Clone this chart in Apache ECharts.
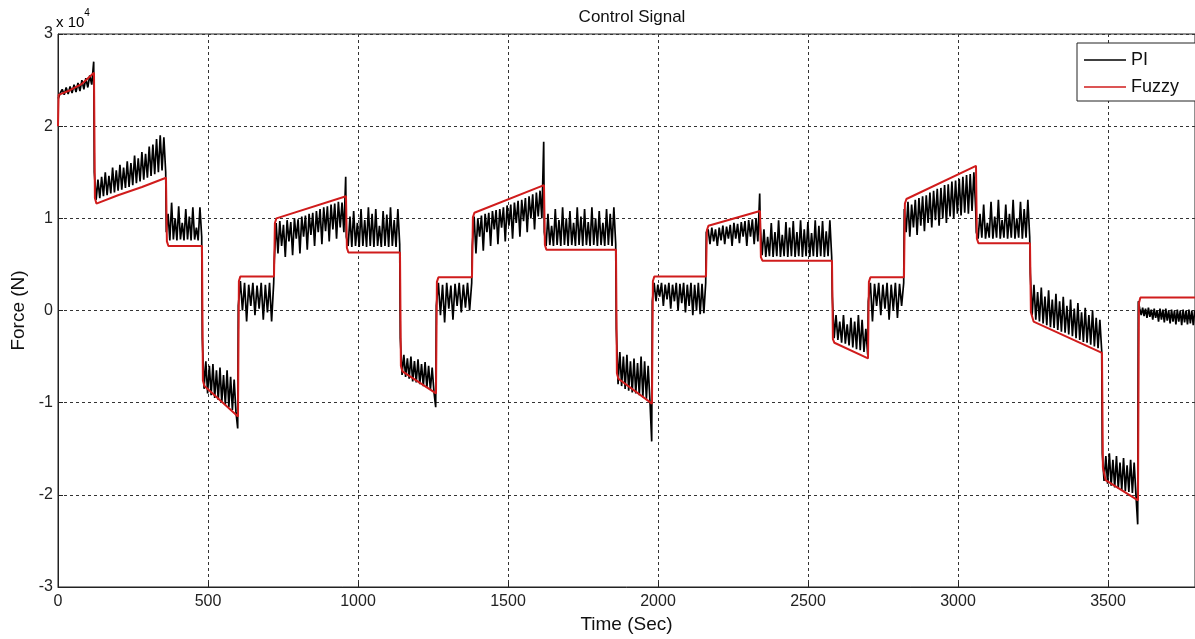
<!DOCTYPE html>
<html>
<head>
<meta charset="utf-8">
<title>Control Signal</title>
<script src="https://cdn.jsdelivr.net/npm/echarts@6/dist/echarts.min.js"></script>
<style>
    html, body { margin: 0; padding: 0; background: #fff; }
    #chart { width: 1195px; height: 639px; }
</style>
</head>
<body>
<div id="chart"></div>
<script>
// all forces are in units of 10^4 N (axis shows "x 10^4")
const timeEnd = 3790;
const segmentStart = [0, 120, 360, 480, 600, 720, 960, 1140, 1260, 1380, 1620,
    1860, 1980, 2160, 2340, 2580, 2700, 2820, 3060, 3240, 3480, 3600];

// PI samples per reference segment
const piSegments = [
    [2.30, 2.36, 2.40, 2.34, 2.42, 2.35, 2.43, 2.36, 2.45, 2.37, 2.47, 2.38, 2.50, 2.40, 2.52, 2.42, 2.55, 2.45, 2.70],
    [1.50, 1.20, 1.42, 1.22, 1.45, 1.24, 1.50, 1.25, 1.46, 1.27, 1.55, 1.28, 1.52, 1.30, 1.58, 1.31, 1.55, 1.33, 1.62, 1.34,
     1.60, 1.36, 1.68, 1.38, 1.65, 1.40, 1.72, 1.42, 1.70, 1.44, 1.78, 1.46, 1.80, 1.48, 1.86, 1.50, 1.90, 1.52, 1.88, 1.50],
    [0.85, 1.05, 0.76, 1.17, 0.77, 1.00, 0.76, 1.13, 0.77, 0.95, 0.76, 1.10, 0.77, 1.02, 0.76, 1.12, 0.77, 0.90, 0.76, 1.12, 0.80],
    [-0.30, -0.85, -0.55, -0.90, -0.60, -0.92, -0.58, -0.95, -0.65, -0.97, -0.62, -1.00, -0.70, -1.02, -0.65, -1.05, -0.72, -1.08, -0.75, -1.10, -1.28],
    [0.05, 0.32, 0.00, 0.30, -0.12, 0.28, 0.05, 0.30, -0.05, 0.27, 0.02, 0.30, -0.10, 0.28, -0.02, 0.30, -0.12, 0.30],
    [0.55, 0.95, 0.62, 0.97, 0.70, 0.93, 0.58, 0.98, 0.75, 0.96, 0.60, 1.00, 0.78, 0.99, 0.62, 1.02, 0.80, 1.03, 0.66, 1.05,
     0.82, 1.06, 0.70, 1.08, 0.85, 1.10, 0.72, 1.12, 0.86, 1.13, 0.75, 1.15, 0.88, 1.16, 0.78, 1.18, 0.90, 1.17, 0.85, 1.45],
    [0.80, 0.70, 1.02, 0.69, 1.08, 0.70, 0.95, 0.69, 1.10, 0.70, 0.98, 0.69, 1.12, 0.70, 1.05, 0.69, 1.10, 0.70, 0.92, 0.69,
     1.08, 0.70, 1.04, 0.69, 1.12, 0.70, 0.98, 0.69, 1.10, 0.72],
    [-0.30, -0.70, -0.48, -0.72, -0.52, -0.74, -0.50, -0.77, -0.55, -0.78, -0.53, -0.80, -0.58, -0.82, -0.56, -0.84, -0.60, -0.86, -0.62, -0.88, -1.05],
    [0.05, 0.30, -0.05, 0.28, -0.13, 0.30, 0.02, 0.27, -0.10, 0.29, 0.05, 0.30, -0.02, 0.28, 0.03, 0.30, 0.00, 0.30],
    [0.70, 1.02, 0.62, 1.00, 0.80, 1.03, 0.65, 1.05, 0.85, 1.06, 0.70, 1.08, 0.88, 1.09, 0.72, 1.10, 0.90, 1.12, 0.75, 1.14,
     0.92, 1.15, 0.78, 1.17, 0.95, 1.19, 0.80, 1.20, 0.97, 1.22, 0.85, 1.24, 1.00, 1.26, 0.88, 1.28, 1.02, 1.30, 1.00, 1.83],
    [0.85, 0.70, 1.05, 0.71, 0.92, 0.70, 1.10, 0.71, 0.98, 0.70, 1.12, 0.71, 1.00, 0.70, 1.08, 0.71, 0.95, 0.70, 1.12, 0.71,
     1.02, 0.70, 1.10, 0.71, 0.96, 0.70, 1.12, 0.71, 1.00, 0.70, 1.08, 0.71, 0.95, 0.70, 1.10, 0.71, 1.05, 0.70, 1.12, 0.72],
    [-0.20, -0.80, -0.45, -0.82, -0.50, -0.85, -0.48, -0.87, -0.55, -0.89, -0.52, -0.90, -0.57, -0.92, -0.50, -0.94, -0.55, -0.96, -0.60, -0.98, -1.42],
    [0.10, 0.30, 0.10, 0.28, 0.15, 0.30, 0.05, 0.28, 0.12, 0.30, 0.02, 0.28, 0.10, 0.30, 0.00, 0.29, 0.08, 0.30, -0.02, 0.28,
     0.05, 0.30, -0.05, 0.28, 0.00, 0.30, -0.04, 0.29, -0.03, 0.30],
    [0.85, 0.88, 0.72, 0.90, 0.75, 0.88, 0.70, 0.90, 0.76, 0.92, 0.72, 0.91, 0.78, 0.93, 0.70, 0.95, 0.78, 0.94, 0.73, 0.96,
     0.80, 0.97, 0.70, 0.98, 0.80, 0.99, 0.72, 1.00, 0.75, 1.27],
    [0.90, 0.60, 0.88, 0.58, 0.80, 0.59, 0.95, 0.58, 0.85, 0.59, 0.98, 0.58, 0.82, 0.59, 0.96, 0.58, 0.90, 0.59, 0.97, 0.58,
     0.85, 0.59, 0.98, 0.58, 0.88, 0.59, 0.96, 0.58, 0.84, 0.59, 0.98, 0.58, 0.92, 0.59, 0.97, 0.58, 0.86, 0.59, 0.98, 0.58],
    [0.15, -0.30, -0.05, -0.32, -0.12, -0.35, -0.05, -0.36, -0.15, -0.38, -0.08, -0.40, -0.12, -0.42, -0.05, -0.43, -0.10, -0.45, -0.20, -0.48],
    [0.10, 0.30, -0.12, 0.29, 0.05, 0.30, -0.05, 0.28, 0.02, 0.30, -0.10, 0.28, 0.00, 0.30, -0.08, 0.29, 0.05, 0.30],
    [1.10, 0.85, 1.18, 0.80, 1.15, 0.90, 1.20, 0.82, 1.22, 0.92, 1.24, 0.86, 1.25, 0.95, 1.28, 0.90, 1.30, 0.98, 1.32, 0.92,
     1.33, 1.00, 1.36, 0.95, 1.37, 1.02, 1.40, 1.00, 1.41, 1.05, 1.43, 1.03, 1.45, 1.06, 1.47, 1.05, 1.48, 1.08, 1.50, 1.10],
    [0.85, 0.78, 1.05, 0.79, 1.15, 0.78, 0.95, 0.79, 1.18, 0.78, 1.02, 0.79, 1.20, 0.78, 0.98, 0.79, 1.15, 0.78, 1.05, 0.79,
     1.20, 0.78, 1.00, 0.79, 1.18, 0.78, 1.10, 0.79, 1.20, 0.80],
    [0.40, -0.05, 0.28, -0.10, 0.20, -0.12, 0.25, -0.14, 0.15, -0.16, 0.22, -0.18, 0.12, -0.19, 0.18, -0.21, 0.10, -0.23, 0.15, -0.24,
     0.05, -0.26, 0.12, -0.28, 0.02, -0.30, 0.08, -0.32, -0.02, -0.34, 0.03, -0.35, -0.05, -0.37, 0.00, -0.39, -0.08, -0.41, -0.10, -0.44],
    [-1.55, -1.85, -1.58, -1.88, -1.55, -1.90, -1.62, -1.92, -1.58, -1.93, -1.65, -1.95, -1.60, -1.96, -1.68, -1.97, -1.62, -1.98, -1.65, -2.00, -2.32],
    [0.10, 0.02, -0.05, 0.03, -0.06, 0.02, -0.08, 0.03, -0.07, 0.01, -0.10, 0.02, -0.08, 0.00, -0.12, 0.02, -0.10, 0.01, -0.13, 0.02,
     -0.11, 0.00, -0.14, 0.01, -0.12, 0.00, -0.15, 0.01, -0.12, 0.00, -0.16, 0.01, -0.13, 0.00, -0.15, 0.01, -0.14, 0.00, -0.16, 0.00]
];

const fuzzyTime = [0, 2, 40, 80, 120, 123, 128, 200, 280, 360, 363, 368, 480, 483, 488, 600,
    603, 608, 720, 723, 728, 960, 963, 968, 1140, 1143, 1148, 1260, 1263, 1268, 1380,
    1383, 1388, 1620, 1623, 1628, 1860, 1863, 1868, 1980, 1983, 1988, 2160, 2163, 2168, 2340,
    2343, 2348, 2580, 2583, 2588, 2700, 2703, 2708, 2820, 2823, 2828, 3060, 3063, 3068, 3240,
    3243, 3252, 3480, 3483, 3492, 3600, 3603, 3608, 3790];
const fuzzyForce = [2.00, 2.34, 2.39, 2.46, 2.58, 1.22, 1.16, 1.25, 1.34, 1.44, 0.75, 0.70, 0.70, -0.76, -0.82, -1.15,
    0.32, 0.37, 0.37, 0.95, 1.00, 1.24, 0.68, 0.63, 0.63, -0.60, -0.66, -0.90, 0.31, 0.36, 0.36,
    1.01, 1.06, 1.36, 0.71, 0.66, 0.66, -0.68, -0.74, -1.01, 0.32, 0.37, 0.37, 0.87, 0.92, 1.08,
    0.58, 0.54, 0.54, -0.31, -0.35, -0.52, 0.31, 0.36, 0.36, 1.16, 1.21, 1.57, 0.78, 0.73, 0.73,
    -0.02, -0.12, -0.46, -1.70, -1.84, -2.06, 0.08, 0.14, 0.14];

const piData = [];
piSegments.forEach((vals, i) => {
    const start = segmentStart[i];
    const end = i + 1 < segmentStart.length ? segmentStart[i + 1] : timeEnd;
    const step = (end - start - 2) / (vals.length - 1);
    vals.forEach((v, j) => piData.push([start + 1 + j * step, v]));
});
const fuzzyData = fuzzyTime.map((t, i) => [t, fuzzyForce[i]]);

const FONT = '"Liberation Sans", Arial, Helvetica, sans-serif';
const chart = echarts.init(document.getElementById('chart'));

chart.setOption({
    animation: false,
    backgroundColor: '#fff',
    title: {
        text: 'Control Signal',
        left: 627,
        textAlign: 'center',
        top: 4,
        textStyle: { fontFamily: FONT, fontSize: 17, fontWeight: 'normal', color: '#111' }
    },
    graphic: [{
        type: 'text',
        left: 56,
        top: 8,
        style: {
            text: '{b|x 10}{s|4}',
            rich: {
                b: { fontFamily: FONT, fontSize: 15, color: '#222', padding: [7, 0, 0, 0] },
                s: { fontFamily: FONT, fontSize: 10, color: '#222', verticalAlign: 'top' }
            }
        }
    }],
    legend: {
        data: [
            { name: 'PI', icon: 'rect', itemStyle: { color: '#000' } },
            { name: 'Fuzzy', icon: 'rect', itemStyle: { color: '#d01c1c' } }
        ],
        orient: 'vertical',
        left: 1077,
        top: 43,
        padding: [7, 30, 4, 7],
        itemWidth: 42,
        itemHeight: 1.5,
        itemGap: 7,
        backgroundColor: '#fff',
        borderColor: '#222',
        borderWidth: 1,
        borderRadius: 0,
        textStyle: { fontFamily: FONT, fontSize: 18, color: '#111', lineHeight: 20 }
    },
    grid: {
        left: 58, right: 0, top: 34, bottom: 52,
        show: true,
        borderColor: '#222',
        borderWidth: 1
    },
    xAxis: {
        type: 'value',
        min: 0,
        max: timeEnd,
        interval: 500,
        name: 'Time (Sec)',
        nameLocation: 'middle',
        nameGap: 25,
        nameTextStyle: { fontFamily: FONT, fontSize: 19, color: '#111' },
        axisLine: { show: true, onZero: false, lineStyle: { color: '#222', width: 1 } },
        axisTick: { show: true, inside: true, length: 5, lineStyle: { color: '#222' } },
        axisLabel: {
            fontFamily: FONT, fontSize: 16, color: '#222', margin: 7,
            showMaxLabel: false,
            formatter: v => String(v)
        },
        splitLine: { show: true, lineStyle: { color: '#333', type: [3, 3], width: 1 } }
    },
    yAxis: {
        type: 'value',
        min: -3,
        max: 3,
        interval: 1,
        name: 'Force (N)',
        nameLocation: 'middle',
        nameGap: 30,
        nameTextStyle: { fontFamily: FONT, fontSize: 19, color: '#111' },
        axisLine: { show: true, lineStyle: { color: '#222', width: 1 } },
        axisTick: { show: true, inside: true, length: 5, lineStyle: { color: '#222' } },
        axisLabel: { fontFamily: FONT, fontSize: 16, color: '#222', margin: 5 },
        splitLine: { show: true, lineStyle: { color: '#333', type: [3, 3], width: 1 } }
    },
    series: [
        {
            name: 'PI',
            type: 'line',
            data: piData,
            symbol: 'none',
            color: '#000',
            lineStyle: { color: '#000', width: 1.7 },
            z: 2
        },
        {
            name: 'Fuzzy',
            type: 'line',
            data: fuzzyData,
            symbol: 'none',
            color: '#d01c1c',
            lineStyle: { color: '#d01c1c', width: 2 },
            z: 3
        }
    ]
});
window.addEventListener('resize', () => chart.resize());
</script>
</body>
</html>
